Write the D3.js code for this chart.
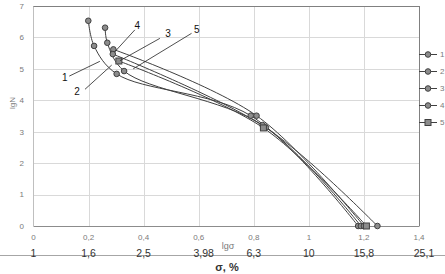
<!DOCTYPE html>
<html>
<head>
<meta charset="utf-8">
<script src="https://cdn.jsdelivr.net/npm/d3@7"></script>
<style>
  body { margin: 0; background: #fff; }
  svg { display: block; font-family: "Liberation Sans", Arial, sans-serif; }
</style>
</head>
<body>
<svg id="chart" width="445" height="274"></svg>
<script>
// series values (lg sigma, lg N)
const seriesNames = ['1', '2', '3', '4', '5'];
const s1x = [0.199, 0.22, 0.302, 0.789, 1.179];
const s1y = [6.53, 5.73, 4.84, 3.51, 0];
const s2x = [0.26, 0.268, 0.329, 0.832, 1.189];
const s2y = [6.31, 5.83, 4.93, 3.21, 0];
const s3x = [0.29, 0.81, 1.2];
const s3y = [5.62, 3.51, 0];
const s4x = [0.288, 0.844, 1.249];
const s4y = [5.47, 3.13, 0];
const s5x = [0.31, 0.835, 1.209];
const s5y = [5.25, 3.12, 0];

const xTicks = [0, 0.2, 0.4, 0.6, 0.8, 1, 1.2, 1.4];
const xTickLabels = ['0', '0,2', '0,4', '0,6', '0,8', '1', '1,2', '1,4'];
const sigmaLabels = ['1', '1,6', '2,5', '3,98', '6,3', '10', '15,8', '25,1'];
const yTicks = [0, 1, 2, 3, 4, 5, 6, 7];

// curve labels: text position and leader end, in data units
const annoNames = ['1', '2', '3', '4', '5'];
const annoTextX = [0.114, 0.158, 0.489, 0.377, 0.593];
const annoTextY = [4.71, 4.27, 6.13, 6.39, 6.26];
const annoFromX = [0.13, 0.187, 0.459, 0.368, 0.574];
const annoFromY = [4.77, 4.35, 5.97, 6.24, 6.13];
const annoToX = [0.241, 0.284, 0.314, 0.296, 0.362];
const annoToY = [5.24, 5.12, 5.26, 5.55, 5.0];

const svg = d3.select('#chart');
const margin = { left: 33.5, top: 6, right: 419, bottom: 226 };

const x = d3.scaleLinear().domain([0, 1.4]).range([margin.left, margin.right]);
const y = d3.scaleLinear().domain([0, 7]).range([margin.bottom, margin.top]);

// grid
const grid = svg.append('g');
grid.selectAll('.hg').data(yTicks.slice(1, -1)).enter().append('line')
  .attr('x1', x(0)).attr('x2', x(1.4))
  .attr('y1', d => Math.round(y(d)) + 0.5).attr('y2', d => Math.round(y(d)) + 0.5)
  .attr('stroke', '#d9d9d9').attr('stroke-width', 1);
grid.selectAll('.vg').data(xTicks.slice(1, -1)).enter().append('line')
  .attr('y1', y(7)).attr('y2', y(0))
  .attr('x1', d => Math.round(x(d)) + 0.5).attr('x2', d => Math.round(x(d)) + 0.5)
  .attr('stroke', '#d9d9d9').attr('stroke-width', 1);

// frame
svg.append('line').attr('x1', x(0)).attr('x2', x(0)).attr('y1', y(7)).attr('y2', y(0))
  .attr('stroke', '#bfbfbf');
svg.append('line').attr('x1', x(0)).attr('x2', x(1.4) + 0.5).attr('y1', y(7) + 0.5).attr('y2', y(7) + 0.5)
  .attr('stroke', '#808080');
svg.append('line').attr('x1', x(1.4) + 0.5).attr('x2', x(1.4) + 0.5).attr('y1', y(7)).attr('y2', y(0))
  .attr('stroke', '#808080');
svg.append('line').attr('x1', x(0)).attr('x2', x(1.4) + 0.5).attr('y1', y(0) + 0.5).attr('y2', y(0) + 0.5)
  .attr('stroke', '#8c8c8c');

// y tick labels
svg.selectAll('.ylab').data(yTicks).enter().append('text')
  .attr('x', 24).attr('y', d => y(d)).attr('dy', '0.35em')
  .attr('text-anchor', 'end').attr('font-size', 8).attr('fill', '#7a7a7a')
  .text(d => d);

// x tick labels (lg sigma)
svg.selectAll('.xlab').data(xTicks).enter().append('text')
  .attr('x', d => x(d)).attr('y', 237).attr('dy', '0.35em')
  .attr('text-anchor', 'middle').attr('font-size', 8).attr('fill', '#7a7a7a')
  .text((d, i) => xTickLabels[i]);

// second row (sigma, %)
svg.append('line').attr('x1', 0).attr('x2', 445).attr('y1', 255.5).attr('y2', 255.5)
  .attr('stroke', '#a6a6a6');
svg.selectAll('.slab').data(xTicks).enter().append('text')
  .attr('x', d => x(d) + (d === 0.6 || d === 1.4 ? 5 : 0)).attr('y', 253).attr('dy', '0.35em')
  .attr('text-anchor', 'middle').attr('font-size', 10.5).attr('fill', '#333')
  .text((d, i) => sigmaLabels[i]);

svg.append('text').attr('x', 228).attr('y', 246).attr('dy', '0.35em')
  .attr('text-anchor', 'middle').attr('font-size', 9).attr('fill', '#7a7a7a').text('lgσ');
svg.append('text').attr('x', 227).attr('y', 267).attr('dy', '0.35em')
  .attr('text-anchor', 'middle').attr('font-size', 11).attr('font-weight', 'bold')
  .attr('fill', '#333').text('σ, %');
svg.append('text').attr('transform', 'translate(12,103) rotate(-90)').attr('dy', '0.35em')
  .attr('text-anchor', 'middle').attr('font-size', 8).attr('fill', '#7a7a7a').text('lgN');

// series
const series = [
  { name: seriesNames[0], xs: s1x, ys: s1y, shape: 'circle' },
  { name: seriesNames[1], xs: s2x, ys: s2y, shape: 'circle' },
  { name: seriesNames[2], xs: s3x, ys: s3y, shape: 'circle' },
  { name: seriesNames[3], xs: s4x, ys: s4y, shape: 'circle' },
  { name: seriesNames[4], xs: s5x, ys: s5y, shape: 'square' }
].map(s => ({ ...s, points: s.xs.map((v, i) => [v, s.ys[i]]) }));

const line = d3.line()
  .x(d => x(d[0]))
  .y(d => y(d[1]))
  .curve(d3.curveCatmullRom.alpha(0.5));

const plot = svg.append('g');
plot.selectAll('.series-line').data(series).enter().append('path')
  .attr('d', d => line(d.points))
  .attr('fill', 'none').attr('stroke', '#404040').attr('stroke-width', 1);

function drawMarker(g, shape, cx, cy) {
  if (shape === 'square') {
    g.append('rect').attr('x', cx - 3).attr('y', cy - 3).attr('width', 6).attr('height', 6)
      .attr('fill', '#8c8c8c').attr('stroke', '#404040').attr('stroke-width', 1);
  } else {
    g.append('circle').attr('cx', cx).attr('cy', cy).attr('r', 2.8)
      .attr('fill', '#8c8c8c').attr('stroke', '#404040').attr('stroke-width', 1);
  }
}

series.forEach(s => {
  s.points.forEach(p => drawMarker(plot, s.shape, x(p[0]), y(p[1])));
});

// curve labels with leaders
const anno = svg.append('g');
annoNames.forEach((n, i) => {
  anno.append('line')
    .attr('x1', x(annoFromX[i])).attr('y1', y(annoFromY[i]))
    .attr('x2', x(annoToX[i])).attr('y2', y(annoToY[i]))
    .attr('stroke', '#222').attr('stroke-width', 0.8);
  anno.append('text')
    .attr('x', x(annoTextX[i])).attr('y', y(annoTextY[i])).attr('dy', '0.35em')
    .attr('text-anchor', 'middle').attr('font-size', 10).attr('fill', '#111')
    .text(n);
});

// legend
const legend = svg.append('g');
series.forEach((s, i) => {
  const ly = 54.5 + i * 17;
  legend.append('line').attr('x1', 419).attr('x2', 437).attr('y1', ly).attr('y2', ly)
    .attr('stroke', '#404040').attr('stroke-width', 1);
  drawMarker(legend, s.shape, 428, ly);
  legend.append('text').attr('x', 440).attr('y', ly).attr('dy', '0.35em')
    .attr('font-size', 8).attr('fill', '#7a7a7a').text(s.name);
});
</script>
</body>
</html>
